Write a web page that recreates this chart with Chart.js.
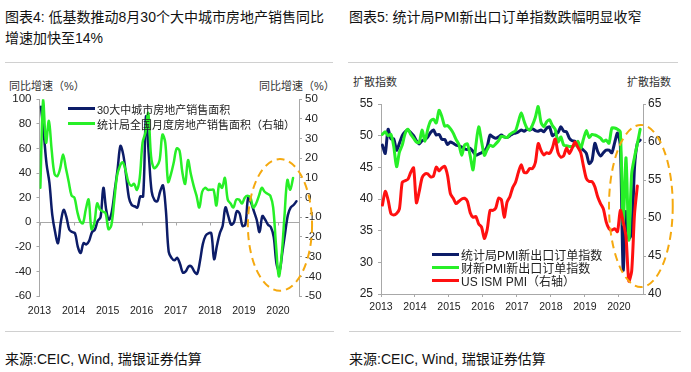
<!DOCTYPE html>
<html><head><meta charset="utf-8">
<script src="https://cdn.jsdelivr.net/npm/chart.js@4.4.1/dist/chart.umd.min.js"></script>
<style>
html,body{margin:0;padding:0;background:#fff}
body{width:691px;height:372px;position:relative;overflow:hidden;font-family:"Liberation Sans","Noto Sans CJK SC",sans-serif;color:#111}
.abs{position:absolute;white-space:nowrap}
.title{font-size:14px;line-height:21px}
.src{font-size:14px;line-height:20px}
.sep{position:absolute;height:1px;background:#d0d0d0}
.axt{font-size:11px;line-height:14px;color:#333}
.leg{position:absolute;white-space:nowrap;color:#222}
.leg .row{display:flex;align-items:center}
.leg .smp{display:inline-block;width:27px;height:3px;margin-right:2px}
canvas{position:absolute}
</style></head>
<body>
<div class="abs title" style="left:5px;top:7px">图表4: 低基数推动8月30个大中城市房地产销售同比<br>增速加快至14%</div>
<div class="abs title" style="left:349px;top:7px">图表5: 统计局PMI新出口订单指数跌幅明显收窄</div>
<div class="sep" style="left:5px;top:62px;width:328px"></div>
<div class="sep" style="left:348px;top:62px;width:330px"></div>
<div class="abs axt" style="left:9px;top:79px">同比增速（%）</div>
<div class="abs axt" style="left:259px;top:79px">同比增速（%）</div>
<div class="abs axt" style="left:353px;top:75px">扩散指数</div>
<div class="abs axt" style="left:627px;top:75px">扩散指数</div>
<canvas id="c1" width="345" height="260" style="left:0;top:70px"></canvas>
<canvas id="c2" width="346" height="260" style="left:345px;top:70px"></canvas>
<div id="leg1" class="leg" style="left:68px;top:101px;font-size:11px"></div>
<div id="leg2" class="leg" style="left:432px;top:248px;font-size:12px"></div>
<div class="sep" style="left:5px;top:331px;width:329px"></div>
<div class="sep" style="left:349px;top:331px;width:332px"></div>
<div class="abs src" style="left:5px;top:349px">来源:CEIC, Wind, 瑞银证券估算</div>
<div class="abs src" style="left:349px;top:349px">来源:CEIC, Wind, 瑞银证券估算</div>
<script>
// ---- tick labels (year at January of each year, months since Jan 2013) ----
const yearLabels = ['2013','2014','2015','2016','2017','2018','2019','2020'];

// ---- Chart 4: monthly YoY (%) ----
const cityArea = [94,72,47,32,6,-8,-17,0,10,4,
  -6,-8,-9,-20,-25,-17,-18,-15,-8,-6,
  1,4,28,10,2,9,26,43,62,55,
  38,20,14,13,12,21,21,86,55,25,
  18,17,25,30,10,-24,-29,-31,-29,-34,
  -41,-40,-36,-36,-40,-42,-32,-18,-11,-9,
  -9,-30,-19,-9,-3,12,5,-2,0,9,
  7,-3,-2,20,16,9,2,-8,5,2,
  -2,-4,-12,-34,-40,-25,-9,6,12,14,
  17];
const nationArea = [5,50,28,39,24,12,11,15,22,15,
  8,1,0,-7,-12,-13,-6,-1,-16,-13,
  -3,-6,-7,-8,-16,-14,-2,11,16,18,
  14,8,6,7,4,10,28,33,43,21,
  15,16,19,32,28,8,12,18,25,24,
  13,7,19,12,6,1,-5,3,5,4,
  4,4,-4,7,5,10,-1,-3,-5,-1,
  -1,-3,0,1,0,-5,-3,1,5,3,
  2,1,-5,-24,-40,-29,-9,9,4,10];

// ---- Chart 5: diffusion indices ----
const nbsExport = [48.5,47.2,51.0,49.5,49.5,47.7,48.8,50.0,50.6,50.9,
  50.5,50.0,49.2,48.7,49.2,49.4,49.8,50.5,50.9,50.1,
  50.2,49.4,49.4,48.6,49.0,48.8,48.5,48.4,48.2,47.9,
  47.8,48.0,47.5,46.9,47.1,47.3,47.6,48.3,50.1,49.8,
  49.6,49.8,50.1,49.8,49.7,50.0,50.3,50.4,50.6,50.9,
  50.7,51.0,50.9,51.1,50.8,50.7,50.9,50.6,51.2,51.4,
  50.0,50.3,50.5,51.4,50.7,50.6,49.6,49.2,49.1,48.4,
  48.1,47.7,47.2,45.6,46.1,48.8,47.5,46.8,47.3,47.7,
  47.7,47.3,48.9,50.4,48.5,28.8,38.0,33.8,34.5,45.0,
  48.8,49.3];
const caixinExport = [50.2,50.6,50.0,50.2,48.3,45.1,47.4,48.5,50.3,51.0,
  50.2,49.6,49.0,48.9,50.9,49.1,51.0,52.3,52.6,52.0,
  54.0,53.0,51.5,51.6,51.1,50.4,49.4,48.6,46.9,48.5,
  48.7,46.8,44.6,48.5,51.4,49.1,46.9,47.8,48.5,48.3,
  48.7,49.2,49.9,49.8,49.7,50.2,50.5,50.8,52.2,53.6,
  52.3,51.2,50.9,51.7,52.9,54.6,52.1,51.4,52.2,52.5,
  51.6,51.0,49.0,49.8,48.5,48.4,48.3,48.3,48.5,49.1,
  48.0,49.5,50.8,49.7,50.2,50.1,49.9,49.6,49.1,49.3,
  48.8,51.2,51.2,51.0,50.6,36.0,46.5,33.5,44.0,46.6,
  48.7,51.0];
const usIsmPmi = [51.7,53.5,52.4,50.6,50.4,50.6,51.2,54.7,54.9,55.1,
  56.0,56.6,52.0,53.5,55.3,55.8,55.8,55.4,55.5,56.7,
  56.2,56.6,56.8,55.6,53.2,52.6,51.9,52.2,52.5,52.6,
  52.2,50.7,50.1,50.2,49.2,48.8,47.3,48.5,51.0,51.0,
  51.3,52.6,52.4,50.1,52.1,52.8,54.0,54.7,56.0,57.0,
  56.0,56.0,56.5,56.5,57.3,59.8,58.9,58.3,58.6,58.5,
  59.2,60.4,58.6,58.0,58.2,59.2,58.5,59.2,60.0,59.3,
  58.6,56.8,55.2,54.8,54.8,54.1,52.8,51.9,51.2,49.5,
  48.6,48.4,48.6,48.2,51.0,49.5,47.5,41.7,43.0,50.5,
  54.2];

const NAVY = '#0c1c68', GREEN = '#27ef27', RED = '#ff1010', AX = '#a8a8a8', ORANGE = '#f5a90f';

Chart.defaults.font.family = "'Liberation Sans', Arial, sans-serif";
Chart.defaults.color = '#222';

function pts(arr, off) { return arr.map((v, i) => ({x: i + off, y: v})); }
function yearTicks(scale) { scale.ticks = yearLabels.map((_, k) => ({value: k * 12})); }
function yearLabel(v) { return yearLabels[Math.round(v / 12)]; }

const ellipsePlugin = {
  id: 'ellipse',
  afterDraw(chart, args, opts) {
    const e = opts && opts.box; if (!e) return;
    const xs = chart.scales.x, ys = chart.scales[e.axis];
    const x1 = xs.getPixelForValue(e.x0), x2 = xs.getPixelForValue(e.x1);
    const y1 = ys.getPixelForValue(e.y0), y2 = ys.getPixelForValue(e.y1);
    const ctx = chart.ctx;
    ctx.save();
    ctx.beginPath();
    ctx.ellipse((x1 + x2) / 2, (y1 + y2) / 2, Math.abs(x2 - x1) / 2, Math.abs(y2 - y1) / 2, 0, 0, Math.PI * 2);
    ctx.setLineDash([8, 5]);
    ctx.lineWidth = 2;
    ctx.strokeStyle = ORANGE;
    ctx.stroke();
    ctx.restore();
  }
};
const zeroTickPlugin = {
  id: 'zeroTicks',
  beforeDatasetsDraw(chart, args, opts) {
    if (!opts || !opts.on) return;
    const ctx = chart.ctx, xs = chart.scales.x, ys = chart.scales.y;
    const py = Math.round(ys.getPixelForValue(0)) + 0.5;
    ctx.save();
    ctx.strokeStyle = AX; ctx.lineWidth = 1;
    xs.ticks.forEach(t => {
      const px = Math.round(xs.getPixelForValue(t.value)) + 0.5;
      ctx.beginPath(); ctx.moveTo(px, py); ctx.lineTo(px, py + 3); ctx.stroke();
    });
    ctx.restore();
  }
};

function makeLegend(id, chart, rowH, sampleH) {
  const box = document.getElementById(id);
  chart.data.datasets.forEach(ds => {
    const row = document.createElement('div');
    row.className = 'row';
    row.style.height = rowH + 'px';
    const s = document.createElement('span');
    s.className = 'smp';
    s.style.background = ds.borderColor;
    s.style.height = sampleH + 'px';
    const t = document.createElement('span');
    t.textContent = ds.label;
    row.appendChild(s); row.appendChild(t);
    box.appendChild(row);
  });
}

const common = {
  responsive: false, animation: false, devicePixelRatio: 1,
  elements: {point: {radius: 0}, line: {fill: false, borderCapStyle: 'round', borderJoinStyle: 'round'}},
};

const chart4 = new Chart(document.getElementById('c1'), {
  type: 'line',
  data: {datasets: [
    {label: '30大中城市房地产销售面积', data: pts(cityArea, 0.5), yAxisID: 'y',
     borderColor: NAVY, borderWidth: 2.5, tension: 0.35, order: 2},
    {label: '统计局全国月度房地产销售面积（右轴）', data: pts(nationArea, 0.3), yAxisID: 'y2',
     borderColor: GREEN, borderWidth: 2.5, tension: 0.35, order: 1}
  ]},
  options: Object.assign({}, common, {
    layout: {padding: {top: 29.3, left: 0, right: 0, bottom: 0}},
    plugins: {legend: {display: false}, tooltip: {enabled: false},
      ellipse: {box: {axis: 'y', x0: 73.4, x1: 96, y0: -55.8, y1: 51.4}},
      zeroTicks: {on: true}},
    scales: {
      x: {type: 'linear', min: 0, max: 91.4, afterBuildTicks: yearTicks, afterFit: s => { s.height = 34; },
          grid: {display: false}, border: {display: false},
          ticks: {autoSkip: false, maxRotation: 0, padding: 1, font: {size: 10.5}, callback: yearLabel}},
      y: {position: 'left', min: -60, max: 100, afterFit: s => { s.width = 39.5; },
          ticks: {stepSize: 20, padding: 5, font: {size: 11.5}},
          grid: {color: c => (c.tick && c.tick.value === 0) ? AX : 'rgba(0,0,0,0)', tickColor: AX, tickLength: 3},
          border: {color: AX}},
      y2: {position: 'right', min: -50, max: 50, afterFit: s => { s.width = 46; },
          ticks: {stepSize: 10, padding: 3, font: {size: 11.5}},
          grid: {drawOnChartArea: false, tickColor: AX, tickLength: 3},
          border: {color: AX}}
    }
  }),
  plugins: [ellipsePlugin, zeroTickPlugin]
});

const chart5 = new Chart(document.getElementById('c2'), {
  type: 'line',
  data: {datasets: [
    {label: '统计局PMI新出口订单指数', data: pts(nbsExport, 0.5), yAxisID: 'y',
     borderColor: NAVY, borderWidth: 3, tension: 0.25, order: 3},
    {label: '财新PMI新出口订单指数', data: pts(caixinExport, 0.5), yAxisID: 'y',
     borderColor: GREEN, borderWidth: 3, tension: 0.25, order: 2},
    {label: 'US ISM PMI（右轴）', data: pts(usIsmPmi, 0.5), yAxisID: 'y2',
     borderColor: RED, borderWidth: 3, tension: 0.25, order: 1}
  ]},
  options: Object.assign({}, common, {
    layout: {padding: {top: 34, left: 0, right: 0, bottom: 0}},
    plugins: {legend: {display: false}, tooltip: {enabled: false},
      ellipse: {box: {axis: 'y', x0: 80.5, x1: 103, y0: 26.1, y1: 51.7}}},
    scales: {
      x: {type: 'linear', min: 0, max: 92.5, afterBuildTicks: yearTicks, afterFit: s => { s.height = 36; },
          grid: {display: true, drawOnChartArea: false, tickColor: AX, tickLength: 3},
          border: {display: true, color: AX},
          ticks: {autoSkip: false, maxRotation: 0, padding: 4, font: {size: 10.5}, callback: yearLabel}},
      y: {position: 'left', min: 25, max: 55, afterFit: s => { s.width = 36; },
          ticks: {stepSize: 5, padding: 5, font: {size: 12}},
          grid: {drawOnChartArea: false, tickColor: AX, tickLength: 3},
          border: {color: AX}},
      y2: {position: 'right', min: 40, max: 65, afterFit: s => { s.width = 48; },
          ticks: {stepSize: 5, padding: 2, font: {size: 12}},
          grid: {drawOnChartArea: false, tickColor: AX, tickLength: 3},
          border: {color: AX}}
    }
  }),
  plugins: [ellipsePlugin]
});

makeLegend('leg1', chart4, 15, 3);
makeLegend('leg2', chart5, 13, 3);
</script>
</body></html>
